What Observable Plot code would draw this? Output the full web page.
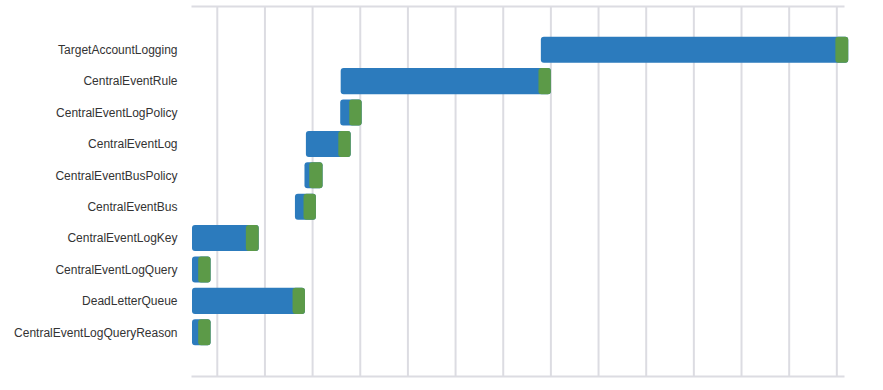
<!DOCTYPE html>
<html>
<head>
<meta charset="utf-8">
<script src="https://cdn.jsdelivr.net/npm/d3@7"></script>
<script src="https://cdn.jsdelivr.net/npm/@observablehq/plot@0.6"></script>
<style>
  html, body { margin: 0; padding: 0; background: #fff; }
  #chart svg { display: block; }
</style>
</head>
<body>
<div id="chart"></div>
<script>
// Resource names (top to bottom)
const names = [
  "TargetAccountLogging",
  "CentralEventRule",
  "CentralEventLogPolicy",
  "CentralEventLog",
  "CentralEventBusPolicy",
  "CentralEventBus",
  "CentralEventLogKey",
  "CentralEventLogQuery",
  "DeadLetterQueue",
  "CentralEventLogQueryReason"
];
// Timeline in seconds (clock seconds; grid every 10 s)
const starts    = [78.0, 36.0, 35.9, 28.7, 28.4, 26.4, 4.8, 4.8, 4.8, 4.8];
const blueEnds  = [139.8, 77.5, 37.8, 35.5, 29.4, 28.2, 16.1, 6.1, 25.9, 6.1];
const greenEnds = [142.5, 80.1, 40.4, 38.1, 32.2, 30.8, 18.8, 8.7, 28.5, 8.7];
const xDomain = [4.8, 141.4];
const gridTicks = d3.range(10, 141, 10);

const rows = names.map((n, i) => ({name: n, start: starts[i], blueEnd: blueEnds[i], greenEnd: greenEnds[i]}));

const blue = "#2c7bbd";
const green = "#5c9a48";
const gridColor = "#dcdce2";

const chart = Plot.plot({
  width: 883,
  height: 390,
  marginTop: 6,
  marginBottom: 14,
  marginLeft: 192,
  marginRight: 40,
  style: {fontFamily: "'Liberation Sans', Arial, Helvetica, sans-serif", fontSize: "12px", color: "#333"},
  x: {domain: xDomain, axis: null},
  y: {domain: names, paddingInner: 0.171, paddingOuter: 0.979, round: false, label: null},
  marks: [
    Plot.ruleX(gridTicks, {stroke: gridColor, strokeWidth: 2}),
    Plot.frame({anchor: "top", stroke: gridColor, strokeWidth: 2}),
    Plot.frame({anchor: "bottom", stroke: gridColor, strokeWidth: 2}),
    Plot.barX(rows, {y: "name", x1: "start", x2: "greenEnd", fill: blue, rx: 3}),
    Plot.barX(rows, {y: "name", x1: "blueEnd", x2: "greenEnd", fill: green, rx: 3}),
    Plot.axisY({tickSize: 0, tickPadding: 15, fontSize: 12, fill: "#333", label: null})
  ]
});
document.getElementById("chart").appendChild(chart);
</script>
</body>
</html>
